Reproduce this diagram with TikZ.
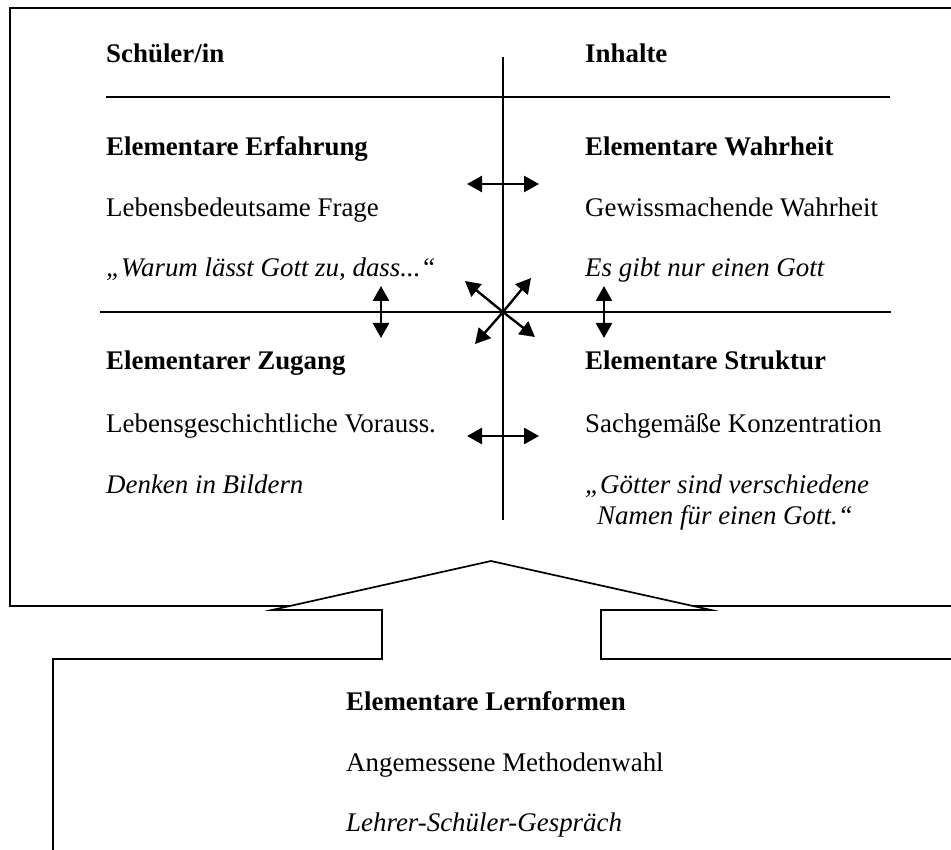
\documentclass[tikz,border=0pt]{standalone}
\usepackage{fontspec}
\setmainfont{Liberation Serif}
\usetikzlibrary{arrows.meta}
\tikzset{
  txt/.style={anchor=base west, inner sep=0pt, font=\fontsize{26.9}{32}\selectfont},
  head/.style={txt, font=\fontsize{26.9}{32}\selectfont\bfseries},
  quote/.style={txt, font=\fontsize{26.9}{32}\selectfont\itshape},
  axis/.style={line width=1.6pt},
  frame/.style={line width=1.7pt},
  dbl/.style={line width=2.6pt, {Triangle[length=15pt,width=16pt]}-{Triangle[length=15pt,width=16pt]}},
  sgl/.style={line width=2.4pt, -{Triangle[length=15pt,width=16pt]}}
}
\begin{document}
\begin{tikzpicture}[x=1pt,y=-1pt]
\useasboundingbox (0,0) rectangle (951,850);
\clip (0,0) rectangle (951,850);
% outer box
\draw[frame] (970,8) -- (10,8) -- (10,606) -- (970,606);
% block arrow (white fill covers box line)
\fill[white] (382,660) -- (382,610) -- (272,610) -- (491,561) -- (711,610) -- (601,610) -- (601,660) -- cycle;
\draw[frame, line join=miter] (53,870) -- (53,659) -- (382,659) -- (382,610) -- (272,610) -- (491,561) -- (711,610) -- (601,610) -- (601,659) -- (970,659);

% axes
\coordinate (vtop) at (503,57);
\coordinate (vbot) at (503,520);
\coordinate (h1l) at (106,97);
\coordinate (h1r) at (890,97);
\coordinate (h2l) at (100,312);
\coordinate (h2r) at (891,312);
\draw[axis] (vtop) -- (vbot);
\draw[axis] (h1l) -- (h1r);
\draw[axis] (h2l) -- (h2r);

% texts
\node[head] (schueler) at (106,63) {Schüler/in};
\node[head] (inhalte) at (585,63) {Inhalte};
\node[head] (erf) at (106,156) {Elementare Erfahrung};
\node[head] (wahr) at (585,156) {Elementare Wahrheit};
\node[txt] (frage) at (106,217) {Lebensbedeutsame Frage};
\node[txt] (gewiss) at (585,217) {Gewissmachende Wahrheit};
\node[quote] (warum) at (106,277) {„Warum lässt Gott zu, dass...“};
\node[quote] (gott) at (585,277) {Es gibt nur einen Gott};
\node[head] (zug) at (106,370) {Elementarer Zugang};
\node[head] (str) at (585,370) {Elementare Struktur};
\node[txt] (vor) at (106,432) {Lebensgeschichtliche Vorauss.};
\node[txt] (konz) at (585,432) {Sachgemäße Konzentration};
\node[quote] (denk) at (106,493) {Denken in Bildern};
\node[quote] (goett1) at (585,493) {„Götter sind verschiedene};
\node[quote] (goett2) at (597,524) {Namen für einen Gott.“};
\node[head] (lern) at (346,710) {Elementare Lernformen};
\node[txt] (meth) at (346,771) {Angemessene Methodenwahl};
\node[quote] (lsg) at (346,831) {Lehrer-Schüler-Gespräch};

% arrows
\coordinate (a1l) at (467,184);
\coordinate (a1r) at (539,184);
\coordinate (a2l) at (467,436);
\coordinate (a2r) at (539,436);
\coordinate (vlT) at (381,286);
\coordinate (vlB) at (381,338);
\coordinate (vrT) at (604,286);
\coordinate (vrB) at (604,338);
\coordinate (c) at (503,312);
\coordinate (dul) at (465,281);
\coordinate (dur) at (531,278);
\coordinate (ddl) at (475,344);
\coordinate (ddr) at (535,337);
\draw[dbl] (a1l) -- (a1r);
\draw[dbl] (a2l) -- (a2r);
\draw[dbl] (vlT) -- (vlB);
\draw[dbl] (vrT) -- (vrB);
\draw[sgl] (c) -- (dul);
\draw[sgl] (c) -- (dur);
\draw[sgl] (c) -- (ddl);
\draw[sgl] (c) -- (ddr);
\end{tikzpicture}
\end{document}
